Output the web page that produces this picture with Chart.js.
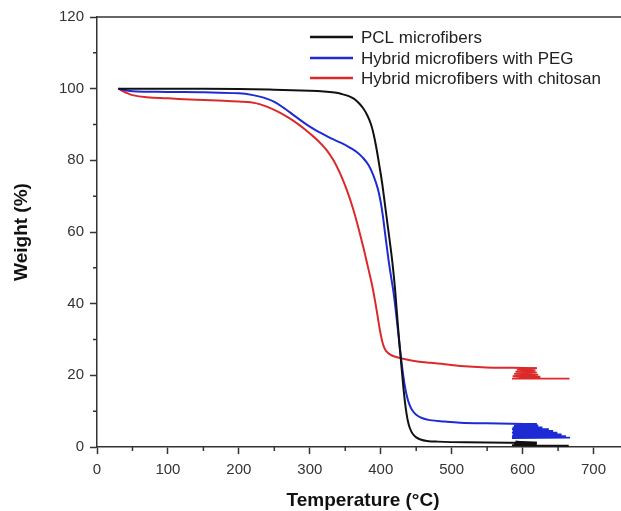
<!DOCTYPE html>
<html>
<head>
<meta charset="utf-8">
<script src="https://cdn.jsdelivr.net/npm/chart.js@4/dist/chart.umd.min.js"></script>
<style>
html,body{margin:0;padding:0;background:#fff;overflow:hidden;width:621px;height:511px;}
canvas{display:block;}
</style>
</head>
<body>
<canvas id="c" width="640" height="511"></canvas>
<script>
// ---- data ----
const seriesLabels = ["PCL microfibers", "Hybrid microfibers with PEG", "Hybrid microfibers with chitosan"];
const seriesColors = ["#111111", "#1c2bd4", "#dc2a2a"];

const pclCurve = [[30,100],[100,100],[200,99.9],[250,99.7],[300,99.4],[320,99.2],[335,98.9],[345,98.5],[355,97.9],[362,97.2],[368,96.2],[375,94.6],[381,92.6],[386,90.2],[390,87.3],[394,83.3],[398,78.6],[402,73.6],[406,67.6],[410,61.5],[414,55.5],[417,50.5],[420,44.5],[422,39.5],[424,34.5],[426,29.7],[428,25.2],[430,20.8],[432,16.5],[434,12.8],[436,9.8],[438,7.5],[441,5.3],[445,3.7],[450,2.7],[456,2.1],[465,1.7],[480,1.5],[520,1.3],[580,1.2],[620,1.2]];
const pclNoise = [[620,1.2],[590,1.5],[618,1.1],[588,0.9],[620,0.7],[585,0.5],[622,0.4],[665,0.35]];

const pegCurve = [[30,100],[50,99.3],[100,99.1],[150,99],[200,98.7],[220,98.2],[235,97.5],[250,96.3],[265,94.4],[280,92.2],[300,89.4],[315,87.7],[330,86.1],[345,84.8],[357,83.5],[367,82.2],[375,80.7],[383,78.6],[390,75.6],[396,72],[400,68.3],[403,64.5],[406,59.8],[409,55.2],[412,50.8],[415,47],[418,43.2],[421,38.4],[424,33],[427,27.6],[430,22.6],[432,19.6],[434,17],[437,14.1],[440,12.1],[444,10.4],[450,9],[458,8.1],[469,7.5],[490,7.1],[512,6.8],[549,6.6],[585,6.5],[620,6.4]];
const pegNoise = [[620,6.4],[588,6.0],[622,6.0],[586,5.5],[628,5.5],[585,5.0],[637,5.0],[586,4.5],[643,4.5],[585,4.0],[649,4.0],[586,3.5],[655,3.5],[585,3.0],[661,3.0],[585,2.5],[667,2.6]];

const chitCurve = [[30,100],[40,99],[50,98.2],[70,97.6],[100,97.3],[131,97.0],[170,96.7],[200,96.4],[225,95.9],[240,94.9],[255,93.6],[270,91.9],[285,89.9],[300,87.5],[312,85.4],[324,82.8],[334,79.8],[343,76.2],[352,71.8],[361,66.5],[369,60.8],[376,55.3],[382,50.2],[388,45],[393,39.6],[397,34.8],[400,31.4],[403,28.8],[406,27.3],[410,26.3],[415,25.6],[422,25.1],[430,24.7],[445,24.1],[469,23.5],[490,23.1],[512,22.6],[549,22.2],[585,22.1],[620,22.0]];
const chitNoise = [[620,22.0],[592,21.6],[618,21.4],[590,21.0],[620,20.8],[588,20.4],[622,20.2],[586,19.8],[625,19.6],[585,19.1],[666,19.1]];

const xTicks = [0,100,200,300,400,500,600,700];
const yTicks = [0,20,40,60,80,100,120];
const xMinor = [50,150,250,350,450,550,650];
const yMinor = [10,30,50,70,90,110];

// ---- chart ----
const toXY = arr => arr.map(p => ({x:p[0], y:p[1]}));
const curves = [pclCurve, pegCurve, chitCurve];
const noises = [pclNoise, pegNoise, chitNoise];
const datasets = [];
curves.forEach((c,i)=>{
  datasets.push({label:seriesLabels[i], data:toXY(c), borderColor:seriesColors[i], borderWidth:2, pointRadius:0, tension:0.4, fill:false});
});
noises.forEach((c,i)=>{
  datasets.push({label:seriesLabels[i]+' (noise)', data:toXY(c), borderColor:seriesColors[i], borderWidth:1.8, pointRadius:0, tension:0, fill:false});
});

const AXIS = '#333';
const extras = {
  id:'extras',
  afterDraw(chart){
    const ctx = chart.ctx, a = chart.chartArea;
    const xs = chart.scales.x, ys = chart.scales.y;
    ctx.save();
    ctx.strokeStyle = AXIS; ctx.lineWidth = 1.5;
    ctx.beginPath(); ctx.moveTo(a.left, a.top); ctx.lineTo(a.right, a.top); ctx.stroke();
    ctx.beginPath();
    xMinor.forEach(v=>{const px = xs.getPixelForValue(v); ctx.moveTo(px, a.bottom); ctx.lineTo(px, a.bottom+4);});
    yMinor.forEach(v=>{const py = ys.getPixelForValue(v); ctx.moveTo(a.left, py); ctx.lineTo(a.left-4, py);});
    ctx.stroke();
    ctx.font = '17px "Liberation Sans", Arial, sans-serif';
    ctx.textBaseline = 'middle'; ctx.textAlign = 'left';
    const rows = [37, 58, 78];
    seriesLabels.forEach((lab,i)=>{
      ctx.strokeStyle = seriesColors[i]; ctx.lineWidth = 2.5;
      ctx.beginPath(); ctx.moveTo(310, rows[i]); ctx.lineTo(353, rows[i]); ctx.stroke();
      ctx.fillStyle = '#222';
      ctx.fillText(lab, 361, rows[i]+1);
    });
    ctx.restore();
  }
};

new Chart(document.getElementById('c'), {
  type:'line',
  data:{datasets},
  options:{
    responsive:false, animation:false, devicePixelRatio:1,
    layout:{padding:{top:17, right:11, left:0, bottom:0}},
    plugins:{legend:{display:false}, tooltip:{enabled:false}},
    scales:{
      x:{
        type:'linear', min:0, max:750,
        afterBuildTicks: s => { s.ticks = xTicks.map(v=>({value:v})); },
        afterFit: s => { s.height = 64; },
        ticks:{color:AXIS, font:{family:'"Liberation Sans", Arial, sans-serif', size:15}, padding:7, maxRotation:0, autoSkip:false},
        grid:{drawOnChartArea:false, drawTicks:true, tickLength:7, tickColor:AXIS, tickWidth:1.5},
        border:{display:true, color:AXIS, width:1.5},
        title:{display:true, text:'Temperature (°C)', color:'#111', font:{family:'"Liberation Sans", Arial, sans-serif', size:19, weight:'bold'}, padding:{top:0,bottom:-1}}
      },
      y:{
        type:'linear', min:0, max:120,
        afterBuildTicks: s => { s.ticks = yTicks.map(v=>({value:v})); },
        afterFit: s => { s.width = 97; },
        ticks:{color:AXIS, font:{family:'"Liberation Sans", Arial, sans-serif', size:15}, padding:6},
        grid:{drawOnChartArea:false, drawTicks:true, tickLength:7, tickColor:AXIS, tickWidth:1.5},
        border:{display:true, color:AXIS, width:1.5},
        title:{display:true, text:'Weight (%)', color:'#111', font:{family:'"Liberation Sans", Arial, sans-serif', size:19, weight:'bold'}, padding:{top:10,bottom:0}}
      }
    }
  },
  plugins:[extras]
});
</script>
</body>
</html>
